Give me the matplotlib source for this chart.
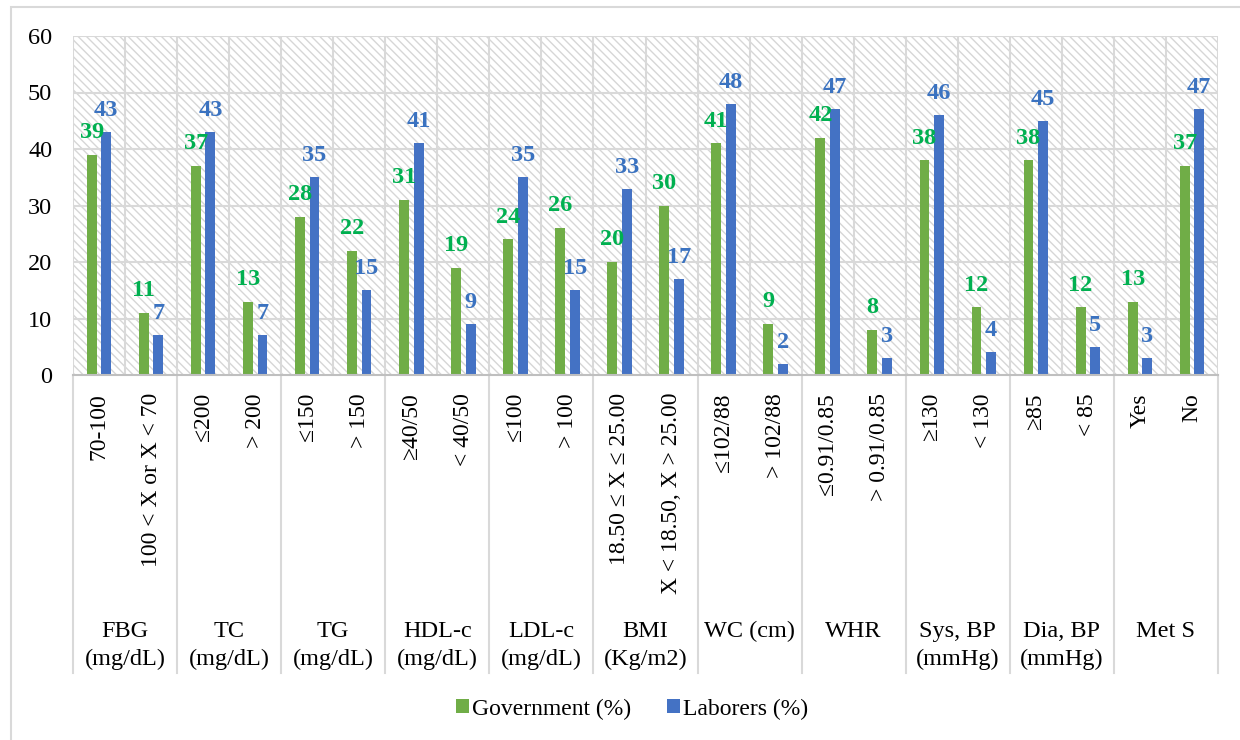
import matplotlib
matplotlib.use("Agg")
import matplotlib.pyplot as plt
import numpy as np
from matplotlib.patches import Rectangle
from matplotlib.lines import Line2D
from matplotlib.transforms import blended_transform_factory

plt.rcParams['font.family'] = ['Liberation Serif', 'DejaVu Serif']
plt.rcParams['hatch.linewidth'] = 1.0

# Sub-category labels (two per group)
sub_labels = [
    "70-100", "100 < X or X < 70",
    "≤200", "> 200",
    "≤150", "> 150",
    "≥40/50", "< 40/50",
    "≤100", "> 100",
    "18.50 ≤ X ≤ 25.00", "X < 18.50, X > 25.00",
    "≤102/88", "> 102/88",
    "≤0.91/0.85", "> 0.91/0.85",
    "≥130", "< 130",
    "≥85", "< 85",
    "Yes", "No",
]
group_labels = [
    "FBG\n(mg/dL)", "TC\n(mg/dL)", "TG\n(mg/dL)", "HDL-c\n(mg/dL)",
    "LDL-c\n(mg/dL)", "BMI\n(Kg/m2)", "WC (cm)", "WHR",
    "Sys, BP\n(mmHg)", "Dia, BP\n(mmHg)", "Met S",
]
government = [39, 11, 37, 13, 28, 22, 31, 19, 24, 26, 20, 30,
              41, 9, 42, 8, 38, 12, 38, 12, 13, 37]
laborers = [43, 7, 43, 7, 35, 15, 41, 9, 35, 15, 33, 17,
            48, 2, 47, 3, 46, 4, 45, 5, 3, 47]
y_ticks = [0, 10, 20, 30, 40, 50, 60]

GREEN_BAR = "#70AD47"
BLUE_BAR = "#4472C4"
GREEN_TXT = "#00B050"
BLUE_TXT = "#3A72C0"
GRID = "#D9D9D9"
FS = 17.5

W, H = 1240, 740
fig = plt.figure(figsize=(W / 100, H / 100), dpi=100)
ax = fig.add_axes([73 / W, 1 - 375 / H, (1218 - 73) / W, (375 - 36) / H])

# hatched plot-area background
bg = Rectangle((0, 0), 1, 1, transform=ax.transAxes, facecolor="white",
               edgecolor="#D6D6D6", hatch="\\\\\\\\", linewidth=0, zorder=0)
ax.add_patch(bg)
ax.patch.set_visible(False)

n = len(sub_labels)
x = np.arange(n)
bw = 0.19
off = 0.14
b1 = ax.bar(x - off, government, bw, color=GREEN_BAR, zorder=3, label="Government (%)")
b2 = ax.bar(x + off, laborers, bw, color=BLUE_BAR, zorder=3, label="Laborers (%)")

for xi, v in zip(x, government):
    ax.annotate(str(v), (xi - off, v), xytext=(0, 12), textcoords="offset points",
                ha="center", va="baseline", fontsize=FS, fontweight="bold",
                color=GREEN_TXT, zorder=4)
for xi, v in zip(x, laborers):
    ax.annotate(str(v), (xi + off, v), xytext=(0, 11.5), textcoords="offset points",
                ha="center", va="baseline", fontsize=FS, fontweight="bold",
                color=BLUE_TXT, zorder=4)

ax.set_xlim(-0.5, n - 0.5)
ax.set_ylim(0, 60)
ax.set_yticks(y_ticks)
ax.set_yticklabels([str(t) for t in y_ticks], fontsize=FS)
ax.tick_params(axis="y", length=0, pad=15)
ax.set_xticks([])

# gridlines
for t in y_ticks[1:]:
    ax.axhline(t, color=GRID, lw=1.5, zorder=1)
for b in np.arange(-0.5, n, 1.0):
    ax.axvline(b, color=GRID, lw=1.5, zorder=1)

for s in ["top", "left", "right"]:
    ax.spines[s].set_visible(False)
ax.spines["bottom"].set_color("#BFBFBF")
ax.spines["bottom"].set_linewidth(1.5)
ax.spines["bottom"].set_zorder(5)

# multi-level category axis
tr = blended_transform_factory(ax.transData, ax.transAxes)
px = 1 / (375 - 36)
for b in np.arange(-0.5, n, 2.0):
    ax.add_line(Line2D([b, b], [0, -(673 - 375) * px], transform=tr,
                       color=GRID, lw=1.5, clip_on=False))
for xi, lab in zip(x, sub_labels):
    ax.text(xi, -(393 - 375) * px, lab, transform=tr, rotation=90,
            ha="center", va="top", fontsize=FS - 0.5, clip_on=False)
for gi, lab in enumerate(group_labels):
    ax.text(2 * gi + 0.5, -(621 - 375) * px, lab, transform=tr,
            ha="center", va="top", fontsize=FS, linespacing=1.42,
            multialignment="center", clip_on=False)

fig.legend(handles=[b1, b2], loc="center", bbox_to_anchor=(632 / W, 1 - 709 / H),
           ncol=2, frameon=False, fontsize=17, handlelength=0.55, handleheight=0.55,
           handletextpad=0.15, columnspacing=1.5)

# chart-area frame
fig.add_artist(Rectangle((11 / W, -0.1), 2, 1.1 - 7 / H, transform=fig.transFigure,
                         fill=False, edgecolor=GRID, linewidth=1.5))

fig.savefig("out.png", dpi=100)
